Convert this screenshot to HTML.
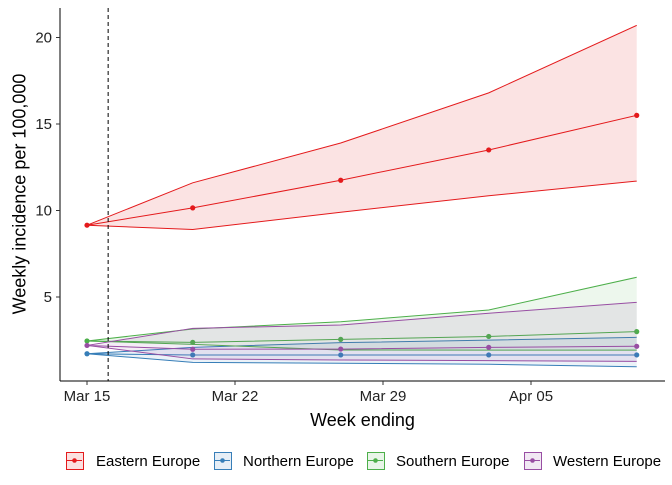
<!DOCTYPE html>
<html><head><meta charset="utf-8"><style>
body{margin:0;background:#fff;font-family:"Liberation Sans",Arial,sans-serif}
svg text{font-family:"Liberation Sans",Arial,sans-serif}
.lk{position:absolute;top:452px;width:18px;height:18px;box-sizing:border-box;border:1.5px solid}
.lt{position:absolute;top:452px;font-size:15px;line-height:19px;white-space:nowrap}
</style></head><body>
<svg id="c" width="672" height="480"></svg>
<script>
const days=[0,5,12,19,26];
const eMid=[9.15,10.15,11.75,13.5,15.5],eLo=[9.15,8.9,9.9,10.85,11.7],eHi=[9.15,11.6,13.9,16.8,20.7];
const nMid=[1.72,1.65,1.65,1.65,1.65],nLo=[1.72,1.22,1.17,1.11,0.97],nHi=[1.72,2.09,2.36,2.51,2.67];
const sMid=[2.46,2.38,2.55,2.72,3.0],sLo=[2.46,2.26,1.94,1.93,1.93],sHi=[2.46,3.15,3.57,4.25,6.14];
const wMid=[2.2,1.98,1.99,2.09,2.15],wLo=[2.2,1.42,1.36,1.32,1.28],wHi=[2.2,3.19,3.38,4.06,4.69];
const yTicks=[5,10,15,20];
const xTickDays=[0,7,14,21];const xTickLabels=["Mar 15","Mar 22","Mar 29","Apr 05"];
const vlineDay=1;
const series=[
 {name:"Eastern Europe",c:"#e41a1c",f:"#f8d0d1",mid:eMid,lo:eLo,hi:eHi},
 {name:"Northern Europe",c:"#377eb8",f:"#377eb8",mid:nMid,lo:nLo,hi:nHi},
 {name:"Southern Europe",c:"#4daf4a",f:"#4daf4a",mid:sMid,lo:sLo,hi:sHi},
 {name:"Western Europe",c:"#984ea3",f:"#984ea3",mid:wMid,lo:wLo,hi:wHi}];
const X=d=>87+d*148/7, Y=v=>383.5-v*17.3;
const svg=document.getElementById('c');const NS="http://www.w3.org/2000/svg";
function mk(t,a,p){const e=document.createElementNS(NS,t);for(const k in a)e.setAttribute(k,a[k]);(p||svg).appendChild(e);return e;}
series.forEach((s,i)=>{
 let pts=days.map((d,j)=>X(d)+","+Y(s.hi[j])).concat(days.slice().reverse().map((d,j)=>X(d)+","+Y(s.lo[4-j])));
 const band=mk('polygon',{points:pts.join(' '),fill:s.f,'fill-opacity':i==0?0.6:0.1,stroke:'none'});
 
 
 [s.hi,s.lo,s.mid].forEach((arr,k)=>{
  const l=mk('polyline',{points:days.map((d,j)=>X(d)+","+Y(arr[j])).join(' '),fill:'none',stroke:s.c,'stroke-width':1});
  
  
 });
 days.forEach((d,j)=>{const p=mk('circle',{cx:X(d),cy:Y(s.mid[j]),r:2.6,fill:s.c});
  
  });
});
const vl=mk('line',{x1:X(vlineDay),x2:X(vlineDay),y1:8,y2:381,stroke:'#000','stroke-dasharray':'4,3'});


mk('line',{x1:60,x2:60,y1:8,y2:381,stroke:'#000'});
mk('line',{x1:60,x2:665,y1:381,y2:381,stroke:'#000'});
yTicks.forEach(v=>{mk('line',{x1:56,x2:60,y1:Y(v),y2:Y(v),stroke:'#333'});
 const t=mk('text',{x:52,y:Y(v)+5,'text-anchor':'end','font-size':15,fill:'#222'});t.textContent=v;
 
 });
xTickDays.forEach((d,i)=>{mk('line',{x1:X(d),x2:X(d),y1:381,y2:385,stroke:'#333'});
 const t=mk('text',{x:X(d),y:401,'text-anchor':'middle','font-size':15,fill:'#222'});t.textContent=xTickLabels[i];
 
 });
</script>
<div style="position:absolute;left:0;top:410px;width:725px;text-align:center;font-size:18px">Week ending</div>
<div style="position:absolute;left:20px;top:194px;transform:translate(-50%,-50%) rotate(-90deg);font-size:18px;white-space:nowrap;transform-origin:center">Weekly incidence per 100,000</div>
<div>
<div class="lk" style="left:66px;border-color:#e41a1c;background:#fbe0e0"><svg width="15" height="15" style="display:block"><line x1="0" x2="15" y1="7.5" y2="7.5" stroke="#e41a1c"/><circle cx="7.5" cy="7.5" r="2.3" fill="#e41a1c"/></svg></div>
<div class="lt" style="left:96px">Eastern Europe</div>
<div class="lk" style="left:214px;border-color:#377eb8;background:#e6eef6"><svg width="15" height="15" style="display:block"><line x1="0" x2="15" y1="7.5" y2="7.5" stroke="#377eb8"/><circle cx="7.5" cy="7.5" r="2.3" fill="#377eb8"/></svg></div>
<div class="lt" style="left:243px">Northern Europe</div>
<div class="lk" style="left:367px;border-color:#4daf4a;background:#e9f5e9"><svg width="15" height="15" style="display:block"><line x1="0" x2="15" y1="7.5" y2="7.5" stroke="#4daf4a"/><circle cx="7.5" cy="7.5" r="2.3" fill="#4daf4a"/></svg></div>
<div class="lt" style="left:396px">Southern Europe</div>
<div class="lk" style="left:524px;border-color:#984ea3;background:#f1e8f3"><svg width="15" height="15" style="display:block"><line x1="0" x2="15" y1="7.5" y2="7.5" stroke="#984ea3"/><circle cx="7.5" cy="7.5" r="2.3" fill="#984ea3"/></svg></div>
<div class="lt" style="left:553px">Western Europe</div>
</div>
</body></html>
